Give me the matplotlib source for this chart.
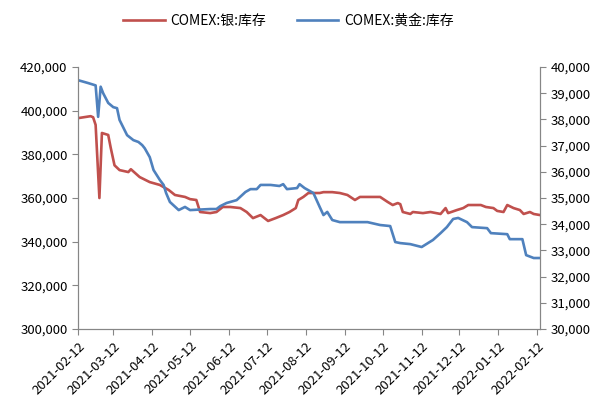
import matplotlib.pyplot as plt
import matplotlib.dates as mdates
import matplotlib.ticker as mticker
import pandas as pd

plt.rcParams['font.family'] = ['Noto Sans CJK SC', 'DejaVu Sans']

# COMEX silver inventory (left axis)
silver_dates = ['2021-02-12', '2021-02-22', '2021-02-24', '2021-02-26', '2021-03-01', '2021-03-03',
                '2021-03-08', '2021-03-10', '2021-03-13', '2021-03-17', '2021-03-24', '2021-03-26',
                '2021-04-02', '2021-04-10', '2021-04-18', '2021-04-25', '2021-04-30', '2021-05-08',
                '2021-05-12', '2021-05-17', '2021-05-20', '2021-05-28', '2021-06-02', '2021-06-07',
                '2021-06-13', '2021-06-21', '2021-06-26', '2021-07-01', '2021-07-07', '2021-07-13',
                '2021-07-19', '2021-07-25', '2021-07-30', '2021-08-04', '2021-08-06', '2021-08-10',
                '2021-08-14', '2021-08-23', '2021-08-26', '2021-09-02', '2021-09-08', '2021-09-14',
                '2021-09-20', '2021-09-24', '2021-10-05', '2021-10-10', '2021-10-16', '2021-10-20',
                '2021-10-24', '2021-10-26', '2021-10-28', '2021-11-03', '2021-11-05', '2021-11-13',
                '2021-11-19', '2021-11-27', '2021-12-01', '2021-12-03', '2021-12-10', '2021-12-15',
                '2021-12-19', '2021-12-29', '2022-01-02', '2022-01-08', '2022-01-11', '2022-01-16',
                '2022-01-19', '2022-01-24', '2022-01-29', '2022-02-01', '2022-02-06', '2022-02-09',
                '2022-02-14']
silver_vals = [396600, 397500, 397000, 393500, 360000, 389800,
               388900, 383000, 375000, 372800, 371900, 373200,
               369600, 367300, 366000, 363700, 361400, 360500,
               359500, 359100, 353600, 353100, 353600, 355900,
               355900, 355400, 353600, 350800, 352200, 349500,
               350800, 352200, 353600, 355400, 359100, 360500,
               362300, 362300, 362700, 362700, 362300, 361400,
               359100, 360500, 360500, 360500, 358200, 356800,
               357700, 357200, 353600, 352700, 353600, 353100,
               353600, 352700, 355400, 353100, 354500, 355400,
               356800, 356800, 355900, 355400, 354100, 353600,
               356800, 355400, 354500, 352700, 353600, 352700,
               352200]

# COMEX gold inventory (right axis)
gold_dates = ['2021-02-12', '2021-02-20', '2021-02-26', '2021-02-28', '2021-03-02', '2021-03-04',
              '2021-03-08', '2021-03-12', '2021-03-15', '2021-03-17', '2021-03-23', '2021-03-28',
              '2021-04-01', '2021-04-04', '2021-04-06', '2021-04-10', '2021-04-13', '2021-04-18',
              '2021-04-21', '2021-04-23', '2021-04-26', '2021-05-03', '2021-05-08', '2021-05-12',
              '2021-05-28', '2021-06-02', '2021-06-05', '2021-06-10', '2021-06-18', '2021-06-25',
              '2021-06-29', '2021-07-04', '2021-07-07', '2021-07-15', '2021-07-22', '2021-07-25',
              '2021-07-28', '2021-08-05', '2021-08-07', '2021-08-11', '2021-08-18', '2021-08-23',
              '2021-08-26', '2021-08-29', '2021-09-02', '2021-09-08', '2021-09-30', '2021-10-10',
              '2021-10-18', '2021-10-22', '2021-10-26', '2021-11-03', '2021-11-12', '2021-11-17',
              '2021-11-21', '2021-11-27', '2021-12-02', '2021-12-07', '2021-12-11', '2021-12-18',
              '2021-12-22', '2022-01-03', '2022-01-06', '2022-01-19', '2022-01-21', '2022-01-31',
              '2022-02-03', '2022-02-09', '2022-02-14']
gold_vals = [39500, 39390, 39300, 38100, 39250, 39000,
             38630, 38470, 38430, 37980, 37400, 37210,
             37140, 37020, 36900, 36560, 36070, 35690,
             35500, 35190, 34850, 34540, 34660, 34540,
             34580, 34580, 34690, 34810, 34920, 35230,
             35340, 35340, 35500, 35500, 35460, 35530,
             35340, 35380, 35530, 35380, 35190, 34660,
             34350, 34470, 34160, 34080, 34080, 33970,
             33930, 33320, 33280, 33240, 33130, 33280,
             33400, 33660, 33890, 34200, 34240, 34080,
             33890, 33850, 33660, 33620, 33430, 33430,
             32820, 32710, 32710]

tick_dates = pd.date_range('2021-02-01', '2022-02-01', freq='MS') + pd.Timedelta(days=11)

red = '#C0504D'
blue = '#4F81BD'
grey = '#868686'

fig = plt.figure(figsize=(6, 4.03), dpi=100)
ax = fig.add_axes([0.13, 0.1836, 0.77, 0.65])
ax2 = ax.twinx()

l1, = ax.plot(pd.to_datetime(silver_dates), silver_vals, color=red, lw=1.9, label='COMEX:银:库存')
l2, = ax2.plot(pd.to_datetime(gold_dates), gold_vals, color=blue, lw=1.9, label='COMEX:黄金:库存')

ax.set_ylim(300000, 420000)
ax.set_yticks(range(300000, 420001, 20000))
ax2.set_ylim(30000, 40000)
ax2.set_yticks(range(30000, 40001, 1000))
fmt = mticker.FuncFormatter(lambda v, p: f'{int(v):,}')
ax.yaxis.set_major_formatter(fmt)
ax2.yaxis.set_major_formatter(fmt)

ax.set_xlim(pd.Timestamp('2021-02-12'), pd.Timestamp('2022-02-14'))
ax.set_xticks(tick_dates)
ax.xaxis.set_major_formatter(mdates.DateFormatter('%Y-%m-%d'))
for lab in ax.get_xticklabels():
    lab.set_rotation(45)
    lab.set_ha('right')
    lab.set_rotation_mode('anchor')

for a in (ax, ax2):
    a.spines['top'].set_visible(False)
    for s in ('left', 'right', 'bottom'):
        a.spines[s].set_color(grey)
    a.tick_params(colors=grey, labelcolor='#000000', labelsize=9.5, length=4, direction='out')

ax.legend(handles=[l1, l2], loc='upper center', bbox_to_anchor=(0.455, 1.25), ncol=2,
          frameon=False, fontsize=10, handlelength=3.0, handletextpad=0.4, columnspacing=2.2)

fig.savefig('out.png', dpi=100)
